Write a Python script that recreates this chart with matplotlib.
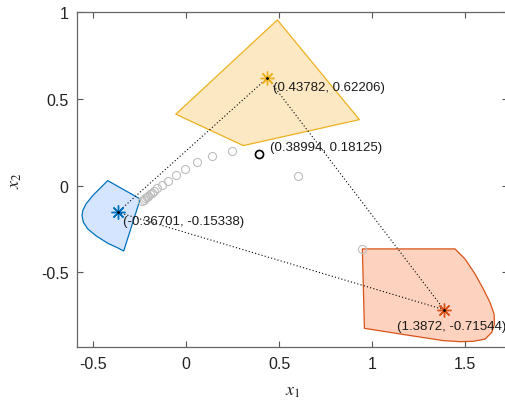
import matplotlib
matplotlib.use("Agg")
import matplotlib.pyplot as plt
from matplotlib.patches import Polygon

plt.rcParams['font.family'] = ['Liberation Sans', 'DejaVu Sans']
plt.rcParams['mathtext.fontset'] = 'stix'

# Region polygons (x1, x2)
blue_x = [-0.421, -0.502, -0.538, -0.555, -0.559, -0.552, -0.528, -0.484, -0.421, -0.367, -0.335, -0.246]
blue_y = [0.029, -0.058, -0.106, -0.144, -0.173, -0.211, -0.250, -0.289, -0.332, -0.359, -0.377, -0.077]
orange_x = [0.491, -0.055, 0.308, 0.932]
orange_y = [0.956, 0.412, 0.231, 0.381]
red_x = [0.948, 1.446, 1.500, 1.554, 1.598, 1.634, 1.656, 1.658, 1.644, 1.608, 1.545, 1.473, 1.383, 1.177, 0.959]
red_y = [-0.365, -0.365, -0.423, -0.510, -0.596, -0.673, -0.741, -0.798, -0.846, -0.885, -0.898, -0.900, -0.894, -0.860, -0.823]

# Vertices (stars)
star_x = [-0.36701, 0.43782, 1.3872]
star_y = [-0.15338, 0.62206, -0.71544]
star_labels = ['(-0.36701, -0.15338)', '(0.43782, 0.62206)', '(1.3872, -0.71544)']

# Iterates (gray circles)
iter_x = [-0.238, -0.228, -0.220, -0.212, -0.204, -0.195, -0.185, -0.172, -0.158,
          -0.131, -0.095, -0.054, -0.005, 0.057, 0.141, 0.249, 0.600, 0.948]
iter_y = [-0.087, -0.080, -0.073, -0.066, -0.058, -0.050, -0.042, -0.030, -0.015,
          0.006, 0.029, 0.062, 0.096, 0.135, 0.173, 0.198, 0.054, -0.367]

# Final point
pt_x, pt_y = 0.38994, 0.18125
pt_label = '(0.38994, 0.18125)'

edge_cols = ['#0072BD', '#EDB120', '#D95319']
face_cols = ['#D6E5FF', '#FDE8C4', '#FDD2BE']

fig = plt.figure(figsize=(5.06, 4.02), dpi=100)
ax = fig.add_axes([0.1516, 0.1336, 0.8524, 0.8333])

for xs, ys, ec, fc in zip([blue_x, orange_x, red_x], [blue_y, orange_y, red_y], edge_cols, face_cols):
    ax.add_patch(Polygon(list(zip(xs, ys)), closed=True, facecolor=fc, edgecolor=ec, lw=0.9,
                         joinstyle='round', zorder=1))

# dotted connecting lines
pairs = [(0, 1), (1, 2), (0, 2)]
for i, j in pairs:
    ax.plot([star_x[i], star_x[j]], [star_y[i], star_y[j]], ls=(0, (1, 2)), color='black', lw=0.8, zorder=2)

ax.plot(iter_x, iter_y, 'o', ls='none', mfc='none', mec='#BDBDBD', ms=5.8, mew=0.8, zorder=3)
ax.plot([pt_x], [pt_y], 'o', mfc='none', mec='black', ms=5.8, mew=1.2, zorder=4)

for k in range(3):
    ax.plot([star_x[k]], [star_y[k]], marker=(8, 2, 0), color=edge_cols[k], ms=10, mew=1.0, ls='none', zorder=5)
    ax.plot([star_x[k]], [star_y[k]], '.', color='black', ms=2, zorder=6)

offsets = [(5.6, -9), (5.3, -9), (-47.5, -16.6)]
for k in range(3):
    ax.annotate(star_labels[k], (star_x[k], star_y[k]), xytext=offsets[k], textcoords='offset pixels',
                ha='left', va='center', fontsize=9.5, color='#1a1a1a', zorder=7)
ax.annotate(pt_label, (pt_x, pt_y), xytext=(11.5, 7), textcoords='offset pixels',
            ha='left', va='center', fontsize=9.5, color='#1a1a1a', zorder=7)

ax.set_xlim(-0.5876, 1.731)
ax.set_ylim(-0.9325, 1.0)
ax.set_xticks([-0.5, 0, 0.5, 1, 1.5])
ax.set_xticklabels(['-0.5', '0', '0.5', '1', '1.5'])
ax.set_yticks([-0.5, 0, 0.5, 1])
ax.set_yticklabels(['-0.5', '0', '0.5', '1'])
ax.tick_params(direction='in', length=4, width=0.8, colors='#555555', labelcolor='#222222',
               labelsize=11.5, top=True, right=True, pad=6)
for s in ax.spines.values():
    s.set_color('#666666')
    s.set_linewidth(0.9)

ax.set_xlabel(r'$x_1$', fontsize=13, color='#222222', labelpad=8)
ax.set_ylabel(r'$x_2$', fontsize=13, color='#222222', labelpad=12)

fig.savefig('out.png', dpi=100)
